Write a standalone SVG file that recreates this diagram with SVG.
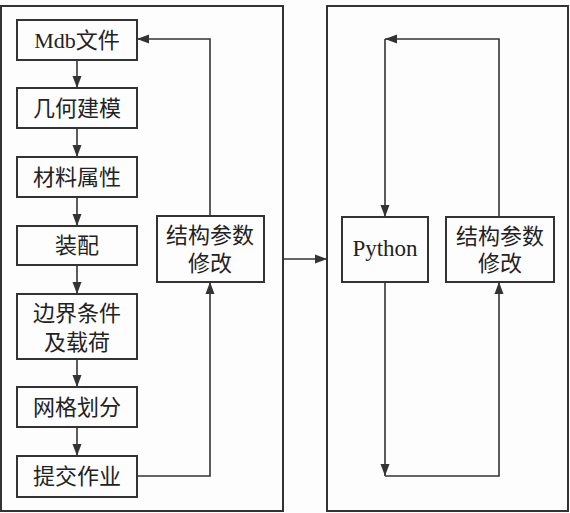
<svg xmlns="http://www.w3.org/2000/svg" width="570" height="513" viewBox="0 0 570 513">
<defs>
<marker id="ah" viewBox="0 0 12 10" refX="12" refY="5" markerWidth="12" markerHeight="10" markerUnits="userSpaceOnUse" orient="auto">
<path d="M0,0.5 L12,5 L0,9.5 z" fill="#333"/>
</marker>
<style>
.box{fill:none;stroke:#333;stroke-width:2}
.outer{fill:none;stroke:#333;stroke-width:2}
.ln{fill:none;stroke:#333;stroke-width:1.6}
text{font-family:"Liberation Serif","Noto Sans CJK SC",serif;font-size:22px;fill:#222;text-anchor:middle;dominant-baseline:central}
.py{font-size:23px}
</style>
</defs>
<rect width="570" height="513" fill="#fdfdfd"/>
<g id="left-panel"><rect class="outer" x="1" y="6" width="282" height="505"/></g>
<g id="right-panel"><rect class="outer" x="327" y="6" width="241" height="505"/></g>
<g id="mdb"><rect class="box" x="17" y="20" width="120" height="40"/><text x="77" y="40">Mdb文件</text></g>
<g id="geom"><rect class="box" x="17" y="88" width="120" height="40"/><text x="77" y="108">几何建模</text></g>
<g id="material"><rect class="box" x="17" y="157" width="120" height="40"/><text x="77" y="177">材料属性</text></g>
<g id="assembly"><rect class="box" x="17" y="226" width="120" height="39"/><text x="77" y="245">装配</text></g>
<g id="boundary"><rect class="box" x="17" y="294" width="120" height="65"/><text x="77" y="313">边界条件</text><text x="77" y="342">及载荷</text></g>
<g id="mesh"><rect class="box" x="17" y="387" width="120" height="40"/><text x="77" y="407">网格划分</text></g>
<g id="submit"><rect class="box" x="17" y="456" width="120" height="41"/><text x="77" y="476">提交作业</text></g>
<g id="modify-left"><rect class="box" x="157" y="216" width="107" height="66"/><text x="210" y="235">结构参数</text><text x="210" y="263">修改</text></g>
<g id="python"><rect class="box" x="342" y="217" width="86" height="65"/><text class="py" x="385" y="248">Python</text></g>
<g id="modify-right"><rect class="box" x="446" y="217" width="108" height="65"/><text x="500" y="236">结构参数</text><text x="500" y="263">修改</text></g>
<g id="connectors">
<line class="ln" x1="77" y1="60" x2="77" y2="88" marker-end="url(#ah)"/>
<line class="ln" x1="77" y1="128" x2="77" y2="157" marker-end="url(#ah)"/>
<line class="ln" x1="77" y1="197" x2="77" y2="226" marker-end="url(#ah)"/>
<line class="ln" x1="77" y1="265" x2="77" y2="294" marker-end="url(#ah)"/>
<line class="ln" x1="77" y1="359" x2="77" y2="387" marker-end="url(#ah)"/>
<line class="ln" x1="77" y1="427" x2="77" y2="456" marker-end="url(#ah)"/>
<polyline class="ln" points="137,476 210,476 210,282" marker-end="url(#ah)"/>
<polyline class="ln" points="210,216 210,39 137,39" marker-end="url(#ah)"/>
<line class="ln" x1="283" y1="259" x2="327" y2="259" marker-end="url(#ah)"/>
<polyline class="ln" points="499,217 499,39 385,39" marker-end="url(#ah)"/>
<line class="ln" x1="385" y1="39" x2="385" y2="217" marker-end="url(#ah)"/>
<line class="ln" x1="385" y1="282" x2="385" y2="476" marker-end="url(#ah)"/>
<polyline class="ln" points="385,476 499,476 499,282" marker-end="url(#ah)"/>
</g>
</svg>
